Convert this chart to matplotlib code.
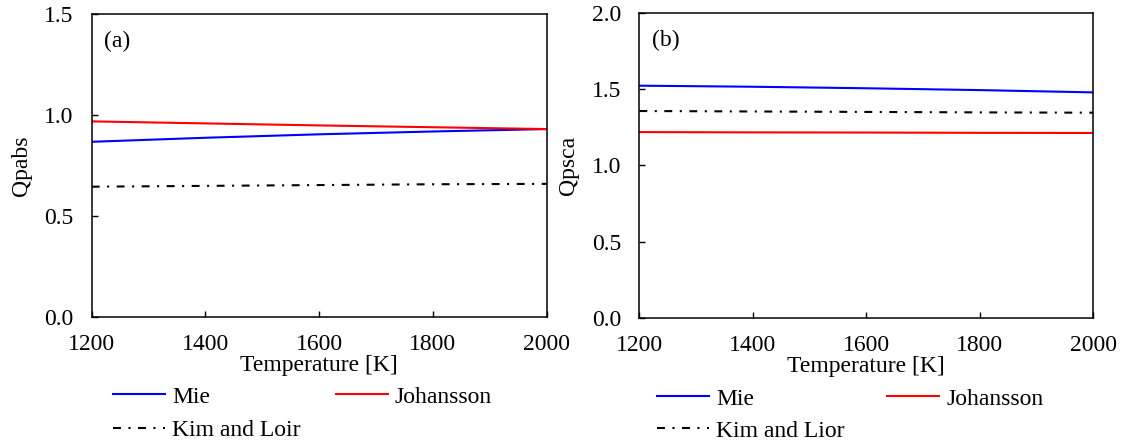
import matplotlib
matplotlib.use('Agg')
import matplotlib.pyplot as plt

plt.rcParams['font.family'] = ['Liberation Serif', 'DejaVu Serif']
plt.rcParams['font.size'] = 17

temps = [1200, 1400, 1600, 1800, 2000]

# (a) absorption efficiency
abs_mie = [0.868, 0.888, 0.905, 0.919, 0.931]
abs_johansson = [0.969, 0.959, 0.949, 0.940, 0.931]
abs_kim = [0.646, 0.650, 0.654, 0.658, 0.660]

# (b) scattering efficiency
sca_mie = [1.522, 1.515, 1.505, 1.493, 1.478]
sca_johansson = [1.218, 1.216, 1.215, 1.213, 1.212]
sca_kim = [1.356, 1.353, 1.350, 1.347, 1.345]

dashdot = (0, (3.8, 3.6, 1, 3.6))

fig = plt.figure(figsize=(11.36, 4.43), dpi=100)
ax1 = fig.add_axes([0.0807, 0.2837, 0.4005, 0.6847])
ax2 = fig.add_axes([0.5628, 0.2822, 0.3996, 0.6891])


def setup(ax, ymax, ylabel, tag):
    ax.set_xlim(1200, 2000)
    ax.set_ylim(0, ymax)
    ax.set_xticks([1200, 1400, 1600, 1800, 2000])
    ax.set_yticks([i * 0.5 for i in range(int(ymax / 0.5) + 1)])
    ax.set_yticklabels(['%.1f' % (i * 0.5) for i in range(int(ymax / 0.5) + 1)])
    ax.tick_params(axis='both', direction='in', length=4.5, width=1)
    ax.tick_params(axis='x', pad=12)
    ax.tick_params(axis='y', pad=13)
    for s in ax.spines.values():
        s.set_linewidth(1.1)
    ax.set_xlabel('Temperature [K]', labelpad=0)
    ax.set_ylabel(ylabel, labelpad=9)
    ax.text(0.027, 0.91, tag, transform=ax.transAxes, va='center', ha='left')


l1, = ax1.plot(temps, abs_mie, color='blue', lw=1.5, label='Mie')
l2, = ax1.plot(temps, abs_johansson, color='red', lw=1.5, label='Johansson')
l3, = ax1.plot(temps, abs_kim, color='black', lw=1.5, ls=dashdot, label='Kim and Loir')
setup(ax1, 1.5, 'Qpabs', '(a)')
ax1.legend(handles=[l1, l3, l2], ncol=2, frameon=False, loc='upper left',
           bbox_to_anchor=(113 / 1136, 1 - 386 / 443), bbox_transform=fig.transFigure,
           borderaxespad=0, borderpad=0, handlelength=2.2, handletextpad=0.3,
           columnspacing=1.5, labelspacing=0.5)

m1, = ax2.plot(temps, sca_mie, color='blue', lw=1.5, label='Mie')
m2, = ax2.plot(temps, sca_johansson, color='red', lw=1.5, label='Johansson')
m3, = ax2.plot(temps, sca_kim, color='black', lw=1.5, ls=dashdot, label='Kim and Lior')
setup(ax2, 2.0, 'Qpsca', '(b)')
ax2.legend(handles=[m1, m3, m2], ncol=2, frameon=False, loc='upper left',
           bbox_to_anchor=(657 / 1136, 1 - 388 / 443), bbox_transform=fig.transFigure,
           borderaxespad=0, borderpad=0, handlelength=2.2, handletextpad=0.3,
           columnspacing=1.8, labelspacing=0.45)

fig.savefig('out.png', dpi=100)
